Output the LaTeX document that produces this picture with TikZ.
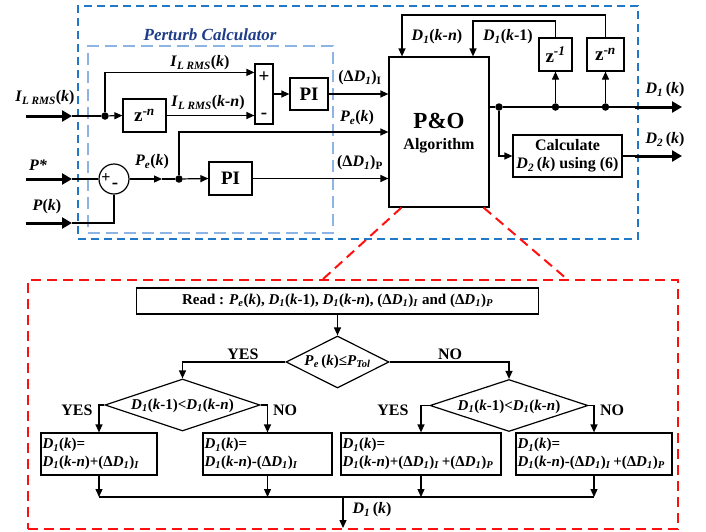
\documentclass[tikz,border=0pt]{standalone}
\usepackage{fontspec}
\setmainfont{Liberation Serif}
\usepackage{xcolor}
\usepackage{tikz}
\usetikzlibrary{arrows.meta,calc,positioning,shapes.geometric}
\definecolor{poBlue}{HTML}{1F78C8}
\definecolor{poNavy}{HTML}{1F3C88}
\definecolor{poLight}{HTML}{8DB4E2}
\definecolor{poRed}{HTML}{FF1010}
\newcommand{\poD}[1]{\textit{D}\textsubscript{\textit{#1}}}
\newcommand{\poPe}{\textit{P}\textsubscript{\textit{e}}}
\newcommand{\poIL}{\textit{I}\textsubscript{\textit{L RMS}}}
\tikzset{
  po diagram/.style={font=\bfseries\fontsize{16}{18}\selectfont,
    line join=miter},
  po box/.style={draw, line width=1.2pt, inner sep=0pt, align=center},
  po big/.style={font=\bfseries\fontsize{19}{21}\selectfont},
  po small/.style={font=\bfseries\fontsize{15}{17.5}\selectfont},
  po flow box/.style={draw, line width=1.2pt, inner sep=1.5pt, align=left, po small},
  po decision/.style={diamond, draw, line width=1.2pt, inner sep=0pt},
  po line/.style={line width=1.2pt},
  po arrow/.style={-{Triangle[length=8pt,width=7pt]}, line width=1.2pt},
  po input/.style={-{Triangle[length=10pt,width=11pt]}, line width=3pt},
  po dot/.style={circle, fill, inner sep=0pt, minimum size=7.5pt},
  po label/.style={inner sep=0pt},
  po outer/.style={draw=poBlue, line width=2pt, dash pattern=on 8pt off 5pt},
  po inner/.style={draw=poLight, line width=1.5pt, dash pattern=on 12pt off 6pt},
  po zoom/.style={draw=poRed, line width=2pt, dash pattern=on 10pt off 6pt}
}
\begin{document}
\begin{tikzpicture}[po diagram, x=1pt, y=-1pt]
\useasboundingbox (0,0) rectangle (706,531);
% frames
\node[po outer, minimum width=560, minimum height=233] (outer) at (358,122.5) {};
\node[po inner, minimum width=245, minimum height=187] (pert) at (210.5,139.5) {};
\node[po label, text=poNavy, font=\bfseries\itshape\fontsize{17}{19}\selectfont] (pertlbl) at (210,35) {Perturb Calculator};
\node[po zoom, minimum width=650, minimum height=249] (flow) at (353,404.5) {};

% perturb calculator blocks
\node[po box, po big, minimum width=43, minimum height=33] (zn) at (144.5,115.5) {z\textsuperscript{-\textit{n}}};
\node[po box, minimum width=18, minimum height=60] (sum) at (264,94) {};
\node[po label, po big] (sumplus) at (264,77) {+};
\node[po label, po big] (summinus) at (264,116) {-};
\node[po box, po big, minimum width=38, minimum height=32] (pi1) at (309,94) {PI};
\node[draw, circle, line width=1.2pt, minimum size=30, inner sep=0pt] (err) at (114,179) {};
\node[po label] (errplus) at (106,178) {+};
\node[po label, po big] (errminus) at (115,186) {-};
\node[po box, po big, minimum width=43, minimum height=33] (pi2) at (230.5,178.5) {PI};
\node[po dot] (j1) at (105,116) {};
\node[po dot] (j2) at (179,179) {};

% P&O and outputs
\node[po box, minimum width=100, minimum height=150] (po) at (439,132) {};
\node[po label, font=\bfseries\fontsize{23}{25}\selectfont] (potitle) at (439,121) {P\&O};
\node[po label, font=\bfseries\fontsize{16}{18}\selectfont] (poalg) at (439,146) {Algorithm};
\node[po box, po big, minimum width=33, minimum height=33] (zd1) at (555.5,54.5) {z\textsuperscript{\textit{-1}}};
\node[po box, po big, minimum width=37, minimum height=33] (zdn) at (605.5,54.5) {z\textsuperscript{-\textit{n}}};
\node[po box, minimum width=109, minimum height=42] (calc) at (567.5,156) {Calculate\\\poD{2}\,(\textit{k}) using (6)};
\node[po dot] (j3) at (499,107) {};
\node[po dot] (j4) at (555.5,107) {};
\node[po dot] (j5) at (605.5,107) {};

% free ends
\coordinate (inIL) at (26,116);  \coordinate (tipIL) at (72,116);
\coordinate (inPs) at (26,179);  \coordinate (tipPs) at (72,179);
\coordinate (inP) at (26,223);   \coordinate (tipP) at (72,223);
\coordinate (peMid) at (162,179);
\coordinate (outD1a) at (635,107); \coordinate (outD1) at (682,107);
\coordinate (outD2a) at (635,156); \coordinate (outD2) at (682,156);
\coordinate (fb1) at (473,21);
\coordinate (fbn) at (402,15);
\coordinate (zoomL) at (322,280);
\coordinate (zoomR) at (568,280);

% connectors
\draw[po input] (inIL) -- (tipIL);
\draw[po line] (tipIL) -- (j1);
\draw[po arrow] (j1) -- (zn.west);
\draw[po arrow] (j1) |- ([yshift=-9pt]sum.north west);
\draw[po arrow] (zn.east) -- (zn.east -| sum.west);
\draw[po arrow] (sum.east) -- (pi1.west);
\draw[po arrow] (pi1.east) -- (pi1.east -| po.west);
\draw[po input] (inPs) -- (tipPs);
\draw[po line] (tipPs) -- (err.west);
\draw[po input] (inP) -- (tipP);
\draw[po line] (tipP) -| (err.south);
\draw[po arrow] (err.east) -- (peMid);
\draw[po line] (peMid) -- (j2);
\draw[po arrow] (j2) -- (pi2.west);
\draw[po arrow] (pi2.east) -- (pi2.east -| po.west);
\draw[po arrow] (j2) |- (po.west);
\draw[po line] (j3 -| po.east) -- (j3) -- (j4) -- (j5) -- (outD1a);
\draw[po input] (outD1a) -- (outD1);
\draw[po arrow] (j4) -- (zd1.south);
\draw[po arrow] (j5) -- (zdn.south);
\draw[po arrow] (zd1.north) |- (fb1) -- (fb1 |- po.north);
\draw[po arrow] (zdn.north) |- (fbn) -- (fbn |- po.north);
\draw[po arrow] (j3) |- (calc.west);
\draw[po line] (calc.east) -- (outD2a);
\draw[po input] (outD2a) -- (outD2);
\draw[po zoom] ([xshift=13pt]po.south west) -- (zoomL);
\draw[po zoom] ([xshift=-6pt]po.south east) -- (zoomR);

% signal labels
\node[po label] (lblIL) at (45,98) {\poIL(\textit{k})};
\node[po label] (lblPs) at (38,165) {\textit{P*}};
\node[po label] (lblP) at (47,207) {\textit{P}(\textit{k})};
\node[po label] (lblILk) at (200,63) {\poIL(\textit{k})};
\node[po label] (lblILkn) at (208,103) {\poIL(\textit{k-n})};
\node[po label] (lblPe) at (152,162) {\poPe(\textit{k})};
\node[po label] (lblDI) at (360,78) {(Δ\poD{1})\textsubscript{I}};
\node[po label] (lblPe2) at (357,118) {\poPe(\textit{k})};
\node[po label] (lblDP) at (360,163) {(Δ\poD{1})\textsubscript{P}};
\node[po label] (lblDkn) at (437,37) {\poD{1}(\textit{k-n})};
\node[po label] (lblDk1) at (508,37) {\poD{1}(\textit{k}-1)};
\node[po label] (lblD1) at (665,90) {\poD{1}\,(\textit{k})};
\node[po label] (lblD2) at (665,140) {\poD{2}\,(\textit{k})};

% flowchart
\node[po box, po small, minimum width=402, minimum height=26] (read) at (337.5,301) {Read : \poPe(\textit{k}), \poD{1}(\textit{k}-1), \poD{1}(\textit{k-n}), (Δ\poD{1})\textsubscript{\textit{I}} and (Δ\poD{1})\textsubscript{\textit{P}}};
\node[po decision, minimum width=103, minimum height=52] (dec1) at (337.5,362) {};
\node[po label, po small] (dec1txt) at (dec1) {\poPe\,(\textit{k})≤\textit{P}\textsubscript{\textit{Tol}}};
\node[po decision, minimum width=155, minimum height=52] (dec2) at (182.5,405) {};
\node[po label, po small] (dec2txt) at ([yshift=-1pt]dec2.center) {\poD{1}(\textit{k}-1)<\poD{1}(\textit{k-n})};
\node[po decision, minimum width=158, minimum height=52] (dec3) at (509,405.5) {};
\node[po label, po small] (dec3txt) at ([yshift=-1pt]dec3.center) {\poD{1}(\textit{k}-1)<\poD{1}(\textit{k-n})};
\node[po flow box, minimum width=116, minimum height=42, text width=113] (b1) at (99,454) {\poD{1}(\textit{k})=\\\poD{1}(\textit{k-n})+(Δ\poD{1})\textsubscript{\textit{I}}};
\node[po flow box, minimum width=129, minimum height=42, text width=126] (b2) at (267.5,454) {\poD{1}(\textit{k})=\\\poD{1}(\textit{k-n})-(Δ\poD{1})\textsubscript{\textit{I}}};
\node[po flow box, minimum width=160, minimum height=42, text width=157] (b3) at (421,454) {\poD{1}(\textit{k})=\\\poD{1}(\textit{k-n})+(Δ\poD{1})\textsubscript{\textit{I}}\,+(Δ\poD{1})\textsubscript{\textit{P}}};
\node[po flow box, minimum width=156, minimum height=42, text width=153] (b4) at (594,454) {\poD{1}(\textit{k})=\\\poD{1}(\textit{k-n})-(Δ\poD{1})\textsubscript{\textit{I}}\,+(Δ\poD{1})\textsubscript{\textit{P}}};
\coordinate (mergeL) at (99,497);
\coordinate (mergeR) at (594,497);
\coordinate (outFlow) at (343,528);

\draw[po arrow] (read.south) -- (dec1.north);
\draw[po arrow] (dec1.west) -| (dec2.north);
\draw[po arrow] (dec1.east) -| (dec3.north);
\draw[po arrow] (dec2.west) -| (b1.north);
\draw[po arrow] (dec2.east) -| (b2.north);
\draw[po arrow] (dec3.west) -| (b3.north);
\draw[po arrow] (dec3.east) -| (b4.north);
\foreach \b in {b1,b2,b3,b4}
  \draw[po arrow] (\b.south) -- (\b.south |- mergeL);
\draw[po line] (mergeL) -- (mergeR);
\draw[po arrow] (outFlow |- mergeL) -- (outFlow);

\node[po label] (yes1) at (243,354) {YES};
\node[po label] (no1) at (450,354) {NO};
\node[po label] (yes2) at (77,410) {YES};
\node[po label] (no2) at (285,410) {NO};
\node[po label] (yes3) at (393,410) {YES};
\node[po label] (no3) at (612,410) {NO};
\node[po label] (lblFlow) at (372,510) {\poD{1}\,(\textit{k})};
\end{tikzpicture}
\end{document}
